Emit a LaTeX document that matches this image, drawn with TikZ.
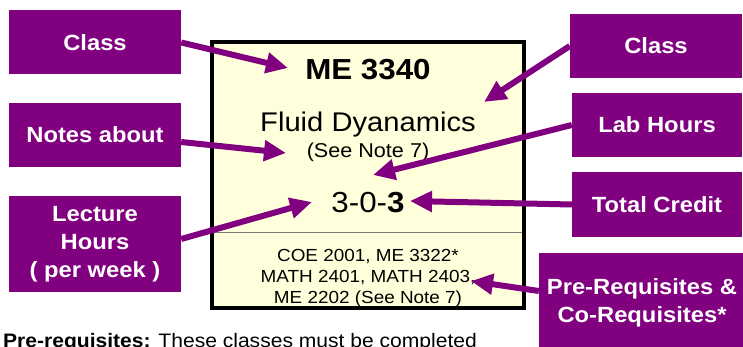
\documentclass[tikz,border=0pt]{standalone}
\usepackage{fontspec}
\setmainfont[FakeStretch=1.08]{Liberation Sans}
\usetikzlibrary{arrows.meta}
\definecolor{cpurple}{HTML}{800080}
\definecolor{cpaper}{HTML}{FFFFDC}
\definecolor{cgrey}{HTML}{7A7A7A}
\tikzset{
  every picture/.style={x=1pt, y=-1pt},
  tag/.style={fill=cpurple, text=white, font=\fontsize{22}{28}\selectfont\bfseries, align=center, inner sep=0pt, minimum width=172pt, minimum height=64pt},
  card/.style={draw=black, fill=cpaper, line width=3.5pt, inner sep=0pt, minimum width=312pt, minimum height=266pt},
  pointer/.style={-{Triangle[length=22pt, width=20pt]}, draw=cpurple, line width=6pt},
  entry/.style={anchor=base, inner sep=0pt},
}

\begin{document}
\begin{tikzpicture}
  \useasboundingbox (0,0) rectangle (743,347);
  % the course card
  \node[card] (card) at (368,175) {};
  \draw[cgrey, line width=1pt] (214,232) -- (522,232);
  \node[entry, font=\fontsize{29}{34}\selectfont\bfseries] (code) at (368,80) {ME 3340};
  \node[entry, font=\fontsize{27}{32}\selectfont] (name) at (368,132) {Fluid Dyanamics};
  \node[entry, font=\fontsize{20}{24}\selectfont] (note) at (368,158) {(See Note 7)};
  \node[entry, font=\fontsize{29}{34}\selectfont] (hours) at (368,212) {3-0-\textbf{3}};
  \node[entry, font=\fontsize{17.5}{21}\selectfont] (req1) at (368,261) {COE 2001, ME 3322*};
  \node[entry, font=\fontsize{17.5}{21}\selectfont] (req2) at (368,282) {MATH 2401, MATH 2403,};
  \node[entry, font=\fontsize{17.5}{21}\selectfont] (req3) at (368,303) {ME 2202 (See Note 7)};
  % labels on the left
  \node[tag] (clsL) at (95,42.5) {Class};
  \node[tag] (notes) at (95,135) {Notes about};
  \node[tag, minimum height=96pt] (lect) at (95,244) {Lecture\\Hours\\( per week )};
  % labels on the right
  \node[tag] (clsR) at (656,46) {Class};
  \node[tag, minimum width=170pt] (lab) at (657,125) {Lab Hours};
  \node[tag, minimum width=170pt, minimum height=65pt] (total) at (657,204.5) {Total Credit};
  \node[tag, minimum width=206pt, minimum height=100pt] (req) at (642,303) {Pre-Requisites \&\\Co-Requisites*};
  % where the arrows point
  \coordinate (t1) at (288,68);
  \coordinate (t2) at (286,153);
  \coordinate (t3) at (312,202);
  \coordinate (t4) at (484,102);
  \coordinate (t5) at (373,175);
  \coordinate (t6) at (410,201);
  \coordinate (t7) at (471,281);
  \draw[pointer] (clsL.east) -- (t1);
  \draw[pointer] ([yshift=-7pt]notes.east) -- (t2);
  \draw[pointer] ([yshift=5pt]lect.east) -- (t3);
  \draw[pointer] (clsR.west) -- (t4);
  \draw[pointer] (lab.west) -- (t5);
  \draw[pointer] (total.west) -- (t6);
  \draw[pointer] ([yshift=12pt]req.west) -- (t7);
  % footnote, cut by the edge
  \node[anchor=base west, inner sep=0pt, font=\fontsize{19.5}{23}\selectfont] (foot) at (3,347) {\textbf{Pre-requisites:} These classes must be completed};
\end{tikzpicture}
\end{document}
